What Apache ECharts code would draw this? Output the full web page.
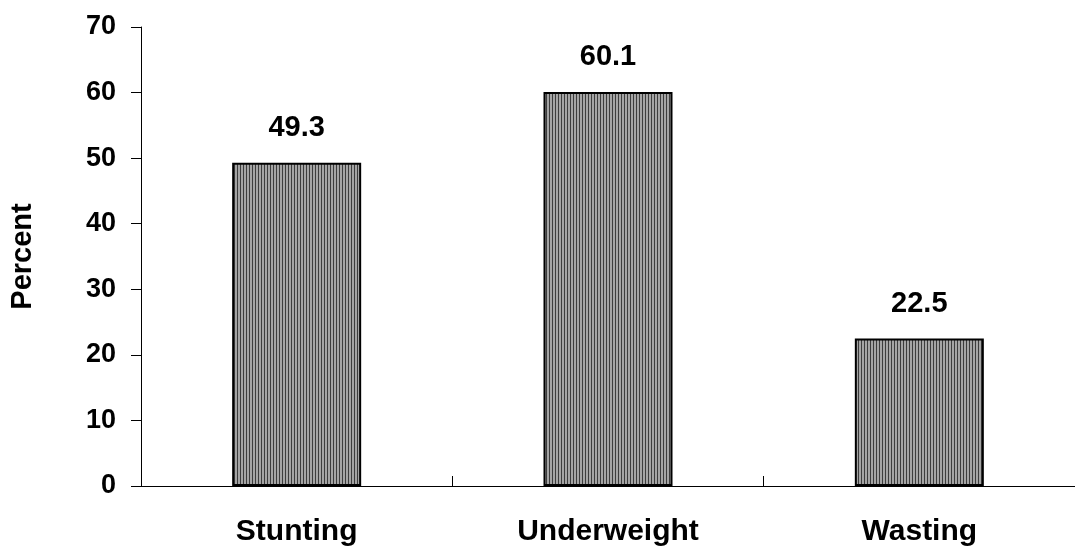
<!DOCTYPE html>
<html>
<head>
<meta charset="utf-8">
<script src="https://cdn.jsdelivr.net/npm/echarts@6/dist/echarts.min.js"></script>
<style>
html,body{margin:0;padding:0;background:#fff;}
#chart{width:1075px;height:548px;}
</style>
</head>
<body>
<div id="chart"></div>
<script>
const categories = ['Stunting', 'Underweight', 'Wasting'];
const values = [49.3, 60.1, 22.5];
const yTicks = [0, 10, 20, 30, 40, 50, 60, 70];

const pc = document.createElement('canvas');
pc.width = 3; pc.height = 4;
const ctx = pc.getContext('2d');
ctx.fillStyle = '#a4a4a4'; ctx.fillRect(0, 0, 3, 4);
ctx.fillStyle = '#3c3c3c'; ctx.fillRect(0, 0, 1, 4);

const font = '"Liberation Sans", Arial, sans-serif';
const chart = echarts.init(document.getElementById('chart'), null, {renderer: 'canvas'});
chart.setOption({
  animation: false,
  backgroundColor: '#fff',
  grid: {left: 137, top: 27, width: 950, height: 459, containLabel: false},
  xAxis: {
    type: 'category',
    data: categories,
    axisLine: {lineStyle: {color: '#000', width: 1}},
    axisTick: {show: true, inside: true, length: 10, lineStyle: {color: '#000'}},
    axisLabel: {color: '#000', fontFamily: font, fontWeight: 'bold', fontSize: 30, margin: 31}
  },
  yAxis: {
    type: 'value',
    min: yTicks[0], max: yTicks[yTicks.length - 1], interval: 10,
    name: 'Percent',
    nameLocation: 'middle',
    nameGap: 104,
    nameRotate: 90,
    nameTextStyle: {color: '#000', fontFamily: font, fontWeight: 'bold', fontSize: 29},
    axisLine: {show: true, lineStyle: {color: '#000', width: 1}},
    axisTick: {show: true, length: 10, lineStyle: {color: '#000'}},
    splitLine: {show: false},
    axisLabel: {color: '#000', fontFamily: font, fontWeight: 'bold', fontSize: 27, margin: 25}
  },
  series: [{
    type: 'bar',
    data: values,
    barWidth: 129,
    itemStyle: {color: {image: pc, repeat: 'repeat'}, borderColor: '#000', borderWidth: 2},
    label: {show: true, position: 'top', distance: 20, color: '#000', fontFamily: font, fontWeight: 'bold', fontSize: 29, formatter: p => p.value.toFixed(1)}
  }]
});
</script>
</body>
</html>
